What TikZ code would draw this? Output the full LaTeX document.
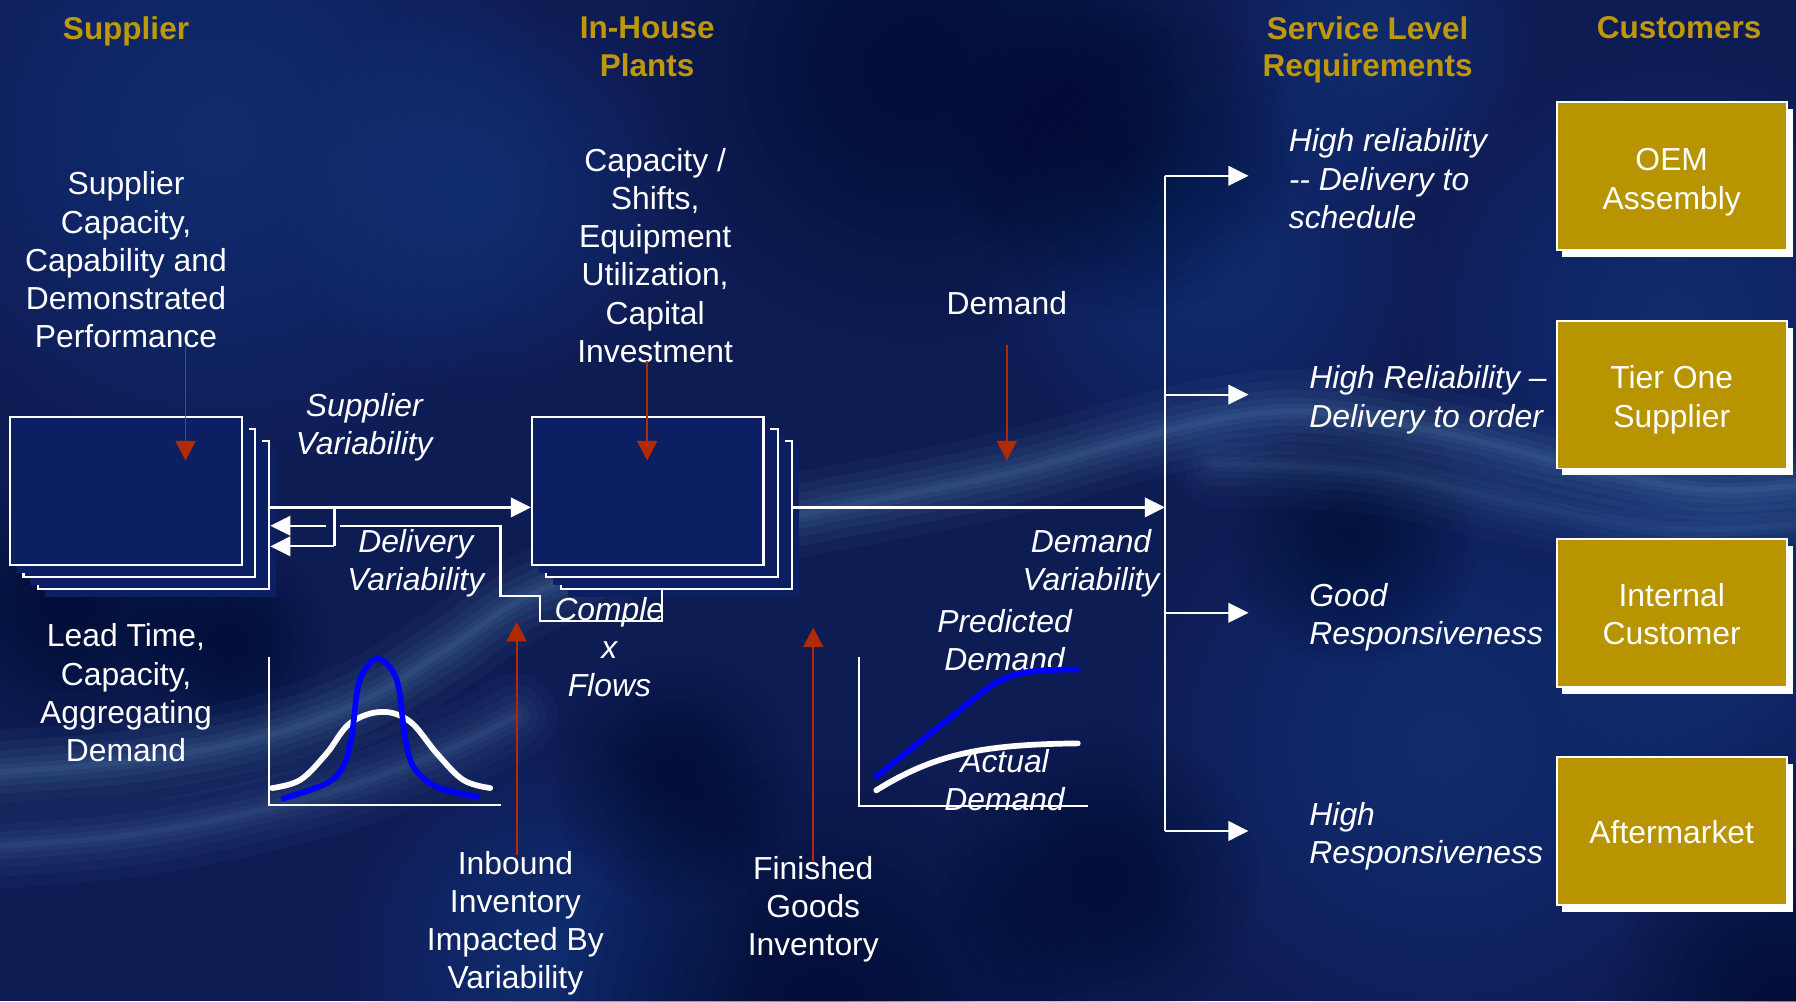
\documentclass[tikz,border=0pt]{standalone}
\usepackage{fontspec}
\setmainfont{Liberation Sans}
\usetikzlibrary{arrows.meta}

\definecolor{bgbase}{RGB}{14,28,84}
\definecolor{bgdark}{RGB}{4,10,40}
\definecolor{bglight}{RGB}{38,66,145}
\definecolor{wave}{RGB}{105,155,200}
\definecolor{boxnavy}{RGB}{12,31,99}
\definecolor{gold}{RGB}{184,148,0}
\definecolor{titlegold}{RGB}{190,152,10}
\definecolor{arrowred}{RGB}{178,42,0}
\definecolor{curveblue}{RGB}{0,0,255}

% soft cloud: concentric translucent discs
\newcommand{\softblob}[4]{%
  \foreach \k in {1,...,16}{\fill[#4,opacity=0.045] (#1,#2) circle[radius={#3*\k/16*1pt}];}}

% stacked plant box with its navy drop shadow
\newcommand{\stackedbox}[3]{%
  \fill[boxnavy,shift={(#2,#3)}] (-95,-57.5) rectangle (107,71.5);
  \node[stackbox] (#1) at (#2,#3) {};}

% customer box with a white offset shadow; #5 lowers the caption
\newcommand{\custnode}[5]{%
  \fill[white,shift={(#2,#3)}] (-95.5,-58.5) rectangle (105.5,70.5);
  \node[custbox] (#1) at (#2,#3) {};
  \node[txt] (#1Label) at ([yshift=-#5pt]#1.center) {#4};}

\tikzset{
  txt/.style={text=white, font=\fontsize{27.8}{33.4}\selectfont, align=center, inner sep=0pt},
  itxt/.style={txt, font=\fontsize{27.8}{33.4}\selectfont\itshape},
  ttl/.style={text=titlegold, font=\fontsize{27.5}{33}\selectfont\bfseries, align=center, inner sep=0pt},
  wline/.style={draw=white, line width=1.9pt},
  warrow/.style={wline, -{Triangle[length=17.5pt,width=17pt]}},
  rarrow/.style={draw=arrowred, line width=1.6pt, -{Triangle[length=17pt,width=17.5pt]}},
  stackbox/.style={draw=white, fill=boxnavy, line width=1.9pt, minimum width=202pt, minimum height=129pt, inner sep=0pt},
  custbox/.style={draw=white, fill=gold, line width=1.6pt, minimum width=201pt, minimum height=129pt, inner sep=0pt},
  axisline/.style={draw=white, line width=1.5pt},
  curve/.style={line width=5pt, line cap=round, line join=round},
}

\begin{document}
\begin{tikzpicture}[x=1pt,y=-1pt]
\useasboundingbox (0,0) rectangle (1568,874);

% ---------- backdrop ----------
\begin{scope}
  \clip (0,0) rectangle (1568,874);
  \fill[bgbase] (0,0) rectangle (1568,874);
  \softblob{190}{120}{290}{bglight}
  \softblob{420}{170}{170}{bglight}
  \softblob{1060}{230}{190}{bglight}
  \softblob{1460}{280}{230}{bglight}
  \softblob{1260}{650}{270}{bglight}
  \softblob{1500}{560}{160}{bglight}
  \softblob{480}{830}{180}{bglight}
  \softblob{1200}{40}{140}{bglight}
  \softblob{800}{60}{240}{bgdark}
  \softblob{980}{130}{150}{bgdark}
  \softblob{720}{890}{230}{bgdark}
  \softblob{60}{530}{120}{bgdark}
  \softblob{200}{560}{90}{bgdark}
  \softblob{960}{770}{140}{bgdark}
  \softblob{1560}{880}{160}{bgdark}
  \softblob{590}{680}{110}{bgdark}
  \softblob{1180}{470}{110}{bgdark}
  % luminous streaks
  \foreach \w/\o in {74/0.05,54/0.06,38/0.07,24/0.08,13/0.09,5/0.1}{
    \draw[wave, line width=\w pt, opacity=\o, line cap=round]
      plot[smooth, tension=0.6] coordinates {
        (-30,676) (120,664) (234,642) (320,610) (390,567) (468,517)
        (600,470) (695,450) (790,432) (886,412) (982,386) (1070,365)
        (1150,360) (1269,380) (1397,412) (1500,428) (1600,420)};
    \draw[wave, line width=\w pt, opacity=0.8*\o, line cap=round]
      plot[smooth, tension=0.6] coordinates {
        (-30,740) (120,728) (273,696) (390,655) (450,625)};
    \draw[wave, line width=\w pt, opacity=0.6*\o, line cap=round]
      plot[smooth, tension=0.6] coordinates {
        (1060,405) (1200,412) (1330,440) (1460,462) (1600,455)};
  }
\end{scope}

% ---------- column titles ----------
\node[ttl] (tSup)  at (110,27)   {Supplier};
\node[ttl] (tHouse) at (565,41) {In-House\\Plants};
\node[ttl] (tServ) at (1194,43.5) {Service Level\\Requirements};
\node[ttl] (tCust) at (1466,24)  {Customers};

% ---------- supplier and plant stacks ----------
\stackedbox{sup3}{134}{449.5}
\stackedbox{sup2}{121.5}{439}
\stackedbox{sup}{110}{428.5}
\stackedbox{ih3}{590.5}{449.5}
\stackedbox{ih2}{578}{439}
\stackedbox{ih}{565.5}{428.5}

% ---------- customers ----------
\custnode{oem}{1459.5}{153.5}{OEM\\Assembly}{5.5}
\custnode{tier}{1459.5}{344.5}{Tier One\\Supplier}{4.5}
\custnode{internal}{1459.5}{535}{Internal\\Customer}{1}
\custnode{after}{1459.5}{725.5}{Aftermarket}{1}

% ---------- descriptive texts ----------
\node[txt] (supText) at (110,227) {Supplier\\Capacity,\\Capability and\\Demonstrated\\Performance};
\node[txt] (ihText) at (572,223) {Capacity /\\Shifts,\\Equipment\\Utilization,\\Capital\\Investment};
\node[txt] (demandText) at (879,265) {Demand};
\node[itxt] (supVar) at (318,373) {Supplier\\Variability};
\node[itxt] (delVar) at (363,492) {Delivery\\Variability};
\node[itxt] (complex) at (532,565) {Comple\\x\\Flows};
\node[itxt] (demVar) at (952.5,491.5) {Demand\\Variability};
\node[txt] (leadTime) at (110,605) {Lead Time,\\Capacity,\\Aggregating\\Demand};
\node[itxt] (predicted) at (877,559) {Predicted\\Demand};
\node[txt] (inbound) at (450,806) {Inbound\\Inventory\\Impacted By\\Variability};
\node[txt] (finished) at (710,794) {Finished\\Goods\\Inventory};

\node[itxt, align=left, anchor=west] (req1) at (1125,156) {High reliability\\{-}{-} Delivery to\\schedule};
\node[itxt, align=left, anchor=west] (req2) at (1143,349) {High Reliability –\\Delivery to order};
\node[itxt, align=left, anchor=west] (req3) at (1143,539) {Good\\Responsiveness};
\node[itxt, align=left, anchor=west] (req4) at (1143,730) {High\\Responsiveness};

% ---------- material flows ----------
\coordinate (flowY) at (0,443);
\coordinate (bus) at (1017,443);
\coordinate (tipX) at (1090,0);
\coordinate (split) at (292,443);
\coordinate (ret1) at (292,477);
\coordinate (hopL) at (285,459);
\coordinate (hopR) at (297,459);

\draw[warrow] (sup3.east |- flowY) -- (ih.west |- flowY);
\draw[wline] (split) -- (ret1);
\draw[warrow] (ret1) -- (sup3.east |- ret1);
\draw[wline] (ih3.south -| 578,0) -- (578,542) -- (471.5,542) -- (471.5,520)
  -- (437,520) -- (437,459) -- (hopR);
\draw[warrow] (hopL) -- (sup3.east |- hopL);

\draw[warrow] (ih3.east |- flowY) -- (bus);
\draw[wline] (bus |- oem.west) -- (bus |- after.west);
\foreach \c in {oem,tier,internal,after}
  \draw[warrow] (bus |- \c.west) -- (tipX |- \c.west);

% ---------- influences ----------
\coordinate (supTip) at (162,402);
\coordinate (ihTip) at (565,402);
\coordinate (demTip) at (879,402);
\coordinate (inTip) at (451,543);
\coordinate (fgTip) at (710,548);
\draw[rarrow] ([yshift=3pt]supText.south -| supTip) -- (supTip);
\draw[rarrow] ([yshift=2pt]ihText.south -| ihTip) -- (ihTip);
\draw[rarrow] ([yshift=-26pt]demandText.south -| demTip) -- (demTip);
\draw[rarrow] ([yshift=-4pt]inbound.north -| inTip) -- (inTip);
\draw[rarrow] ([yshift=-4pt]finished.north -| fgTip) -- (fgTip);

% ---------- lead-time distribution chart ----------
\draw[axisline] (235,574) -- (235,703) -- (437,703);
\draw[curve, white] plot[smooth, tension=0.6] coordinates {
  (237.5,688) (262,681) (285,658) (305.5,631.5) (333,621.5) (358,630)
  (381.5,658) (404.5,681) (428,688)};
\draw[curve, curveblue] plot[smooth, tension=0.55] coordinates {
  (247.5,697) (285,684) (299.5,669.5) (307,643) (314,594) (330,575)
  (346.5,594) (353.5,643) (361,669.5) (381,687) (416,695.5)};

% ---------- demand chart ----------
\draw[axisline] (750,574) -- (750,703.5) -- (950,703.5);
\draw[curve, curveblue] (765,678) -- (858,604) .. controls (880,587) and (896,584.5) .. (941,584.5);
\draw[curve, white] (765,690) .. controls (815,659) and (855,650) .. (941,649);
\node[itxt] (actual) at (877,681) {Actual\\Demand};

\end{tikzpicture}
\end{document}
